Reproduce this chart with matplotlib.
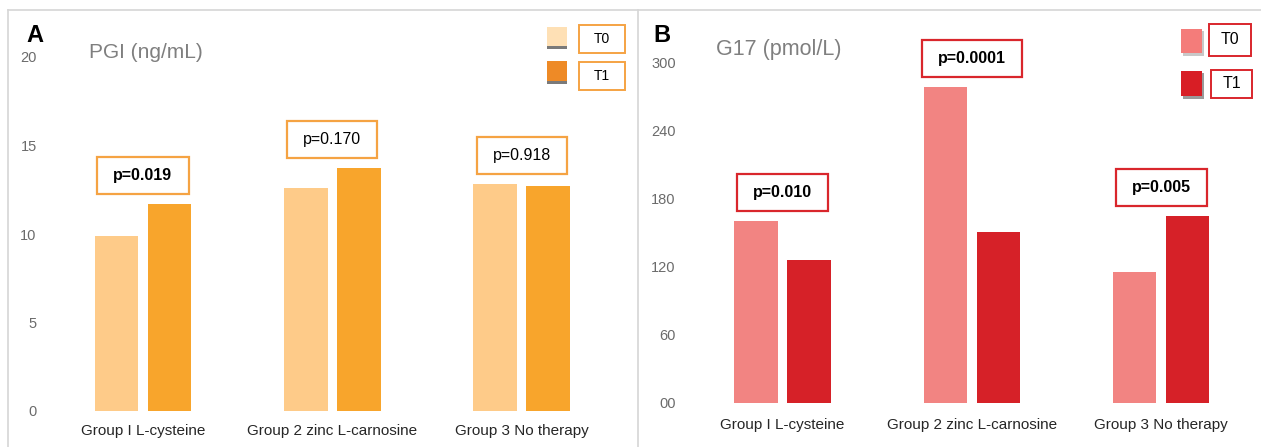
import numpy as np
import matplotlib
matplotlib.use('Agg')
import matplotlib.pyplot as plt
from matplotlib.patches import Rectangle
from matplotlib.transforms import IdentityTransform

##Data
groups = ['Group I L-cysteine', 'Group 2 zinc L-carnosine', 'Group 3 No therapy']
series = ['T0', 'T1']

pgi_t0 = [9.9, 12.6, 12.8]
pgi_t1 = [11.7, 13.75, 12.7]
pgi_p = ['p=0.019', 'p=0.170', 'p=0.918']
pgi_bold = [True, False, False]
pgi_ticks = [0, 5, 10, 15, 20]
pgi_ticklabels = ['0', '5', '10', '15', '20']

g17_t0 = [161, 279, 116]
g17_t1 = [126, 151, 165]
g17_p = ['p=0.010', 'p=0.0001', 'p=0.005']
g17_bold = [True, True, True]
g17_ticks = [0, 60, 120, 180, 240, 300]
g17_ticklabels = ['00', '60', '120', '180', '240', '300']

W, H = 1261, 447
NARROW = ['Liberation Sans Narrow', 'Liberation Sans', 'DejaVu Sans']
REG = ['Liberation Sans', 'DejaVu Sans']

fig = plt.figure(figsize=(W / 100, H / 100), dpi=100)
renderer = fig.canvas.get_renderer()


def px_rect(x0, y0, x1, y1, **kw):
    # rectangle in pixel coords measured from the top-left
    r = Rectangle((x0, H - y1), x1 - x0, y1 - y0, transform=IdentityTransform(), **kw)
    fig.add_artist(r)
    return r


def px_text(x, y, s, **kw):
    fig.text(x / W, 1 - y / H, s, **kw)


def panel(rect, xlim, ylim, t0, t1, pvals, bold, ticks, ticklabels,
          c0, c1, edge, label_pad):
    ax = fig.add_axes([rect[0] / W, rect[1] / H, rect[2] / W, rect[3] / H])
    x = np.arange(len(groups))
    ax.bar(x - 0.14, t0, 0.23, color=c0)
    ax.bar(x + 0.14, t1, 0.23, color=c1)
    ax.set_xlim(*xlim)
    ax.set_ylim(*ylim)
    ax.set_yticks(ticks)
    ax.set_yticklabels(ticklabels, family=NARROW, fontsize=10.5, color='#6b6b6b')
    ax.set_xticks(x)
    ax.set_xticklabels(groups, family=NARROW, fontsize=11, color='#262626')
    ax.tick_params(axis='y', length=0, pad=6)
    ax.tick_params(axis='x', length=0, pad=label_pad)
    for s in ax.spines.values():
        s.set_visible(False)
    ax.patch.set_alpha(0)

    fig.canvas.draw()
    for i, p in enumerate(pvals):
        top = max(t0[i], t1[i])
        t = ax.annotate(p, xy=(i, top), xytext=(0, 20.5), textcoords='offset points',
                        ha='center', va='center', family=NARROW, fontsize=11.5,
                        fontweight='bold' if bold[i] else 'normal', color='black',
                        annotation_clip=False)
        bb = t.get_window_extent(renderer)
        cx, cy = ax.transData.transform((i, top))
        w = bb.width + 32
        r = Rectangle((cx - w / 2, cy + 10), w, 37, transform=IdentityTransform(),
                      facecolor='none', edgecolor=edge, lw=1.6)
        fig.add_artist(r)
    return ax


# Panel A
ax_a = panel((45, 36, 585, 354), ((45 - 143) / 189.35, (630 - 143) / 189.35), (0, 20),
             pgi_t0, pgi_t1, pgi_p, pgi_bold, pgi_ticks, pgi_ticklabels,
             '#FECB89', '#F8A52C', '#F5A343', 9)
# Panel B
ax_b = panel((684, 44, 571, 340), ((684 - 782.4) / 189.4, (1255 - 782.4) / 189.4), (0, 300),
             g17_t0, g17_t1, g17_p, g17_bold, g17_ticks, g17_ticklabels,
             '#F28482', '#D62128', '#D9262C', 11)

# panel frames
fig.add_artist(plt.Line2D([8 / W, 1], [1 - 10 / H] * 2, color='#d6d6d6', lw=1.2))
fig.add_artist(plt.Line2D([8 / W] * 2, [0, 1 - 10 / H], color='#d6d6d6', lw=1.2))
fig.add_artist(plt.Line2D([638 / W] * 2, [0, 1 - 10 / H], color='#d6d6d6', lw=1.2))

# panel letters and titles
px_text(26, 35, 'A', family=NARROW, fontsize=17, fontweight='bold', va='center')
px_text(89, 52, 'PGI (ng/mL)', family=REG, fontsize=15, color='#7f7f7f', va='center')
px_text(653, 35, 'B', family=NARROW, fontsize=17, fontweight='bold', va='center')
px_text(716, 50, 'G17 (pmol/L)', family=REG, fontsize=15.5, color='#7f7f7f', va='center')

# legend A
px_rect(547, 27, 567, 48, facecolor='#FEE0B5', edgecolor='none')
px_rect(547, 46, 567, 49, facecolor='#7a7a7a', edgecolor='none')
px_rect(547, 61, 567, 83, facecolor='#EE8A26', edgecolor='none')
px_rect(547, 81, 567, 84, facecolor='#7a7a7a', edgecolor='none')
px_rect(579, 25, 625, 53, facecolor='white', edgecolor='#F5A343', lw=1.4)
px_rect(579, 62, 625, 90, facecolor='white', edgecolor='#F5A343', lw=1.4)
px_text(602, 39, series[0], family=NARROW, fontsize=10, ha='center', va='center')
px_text(602, 76, series[1], family=NARROW, fontsize=10, ha='center', va='center')

# legend B
px_rect(1183, 31, 1204, 56, facecolor='#c8c8c8', edgecolor='none')
px_rect(1181, 29, 1202, 53, facecolor='#F47C7A', edgecolor='none')
px_rect(1183, 73, 1204, 99, facecolor='#9a9a9a', edgecolor='none')
px_rect(1181, 71, 1202, 96, facecolor='#D81E25', edgecolor='none')
px_rect(1209, 24, 1251, 56, facecolor='white', edgecolor='#D9262C', lw=1.4)
px_rect(1211, 70, 1252, 98, facecolor='white', edgecolor='#D9262C', lw=1.4)
px_text(1230, 40, series[0], family=NARROW, fontsize=11.5, ha='center', va='center')
px_text(1231.5, 84, series[1], family=NARROW, fontsize=11.5, ha='center', va='center')

fig.savefig('out.png', dpi=100, facecolor='white')
